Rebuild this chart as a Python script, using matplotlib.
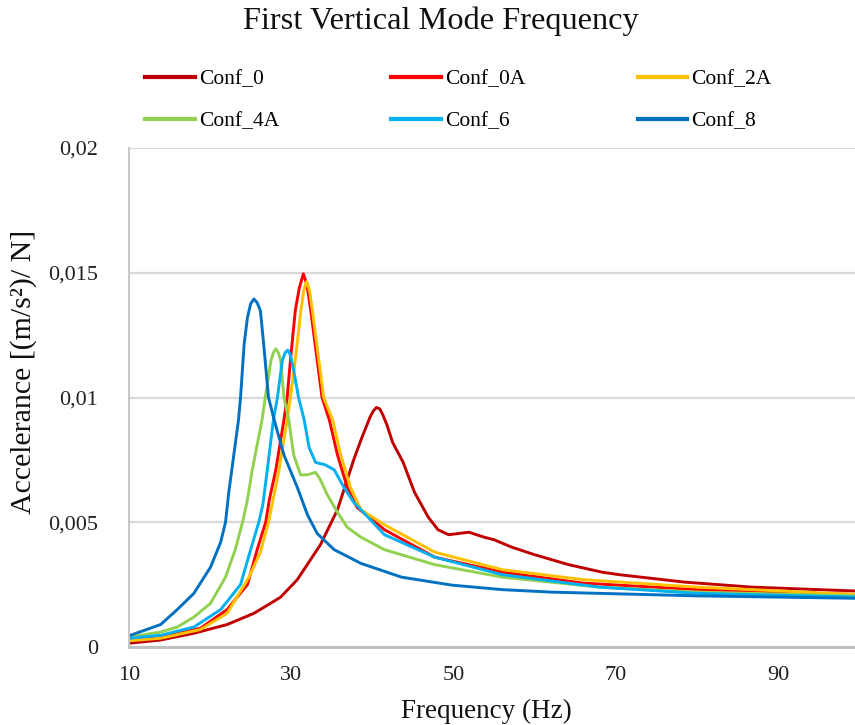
import matplotlib
matplotlib.use("Agg")
import matplotlib.pyplot as plt
from matplotlib.ticker import FuncFormatter

plt.rcParams['font.family'] = ['Liberation Serif', 'DejaVu Serif']

# Conf_0
f_conf0 = [10, 13.9, 18.0, 22.1, 25.4, 27.45, 28.7, 30.75, 33.6, 35.7, 37.7, 38.6, 39.7,
           40.1, 40.5, 40.9, 41.3, 41.8, 42.5, 43.8, 45.2, 46.9, 48.1, 49.4, 51.9, 53.8,
           55, 57.2, 60, 64.2, 68.3, 70.4, 78.5, 86.8, 95, 100]
a_conf0 = [0.00015, 0.00028, 0.00055, 0.0009, 0.00135, 0.00175, 0.002, 0.0027, 0.0041,
           0.0055, 0.0075, 0.0083, 0.0092, 0.00945, 0.0096, 0.00955, 0.0093, 0.0089,
           0.0082, 0.0074, 0.0062, 0.0052, 0.0047, 0.0045, 0.0046, 0.0044, 0.0043,
           0.0040, 0.0037, 0.0033, 0.0030, 0.0029, 0.0026, 0.0024, 0.0023, 0.00224]

# Conf_0A
f_conf0a = [10, 13.9, 18.8, 22.1, 24.6, 25.8, 26.85, 27.3, 28.1, 29.1, 29.5, 29.9, 30.5,
            31.0, 31.5, 31.95, 32.4, 33.2, 33.8, 34.7, 35.7, 36.9, 38.1, 41.5, 47.7, 56,
            66, 80, 100]
a_conf0a = [0.0003, 0.0004, 0.00075, 0.0015, 0.0025, 0.0039, 0.005, 0.0059, 0.0071,
            0.0091, 0.0100, 0.01148, 0.01348, 0.0144, 0.01496, 0.0145, 0.0135, 0.0115,
            0.0100, 0.0091, 0.0077, 0.0064, 0.0056, 0.0047, 0.0036, 0.0030, 0.00256,
            0.0023, 0.0021]

# Conf_2A
f_conf2a = [10, 13.9, 18.8, 22.1, 24.8, 26.2, 27.2, 27.7, 28.5, 29.5, 29.9, 30.5, 31.2,
            31.55, 31.9, 32.25, 32.6, 33.4, 34.0, 35.1, 36.1, 37.3, 38.6, 41.5, 47.7, 56,
            66, 80, 100]
a_conf2a = [0.00025, 0.00035, 0.0007, 0.00135, 0.0028, 0.0038, 0.005, 0.0058, 0.0071,
            0.0091, 0.0100, 0.0115, 0.0135, 0.0143, 0.01465, 0.0143, 0.0135, 0.0115,
            0.0100, 0.0091, 0.0077, 0.0064, 0.0055, 0.0049, 0.0038, 0.0031, 0.0027,
            0.0024, 0.0021]

# Conf_4A
f_conf4a = [10, 13.9, 15.95, 18.0, 20.05, 21.9, 23.1, 24.0, 24.6, 25.2, 26.4, 26.8, 27.5,
            27.8, 28.1, 28.4, 28.7, 29.1, 29.7, 30.3, 31.15, 32.0, 33.0, 33.6, 34.45,
            35.7, 36.9, 38.6, 41.5, 47.7, 56, 68, 80, 100]
a_conf4a = [0.0004, 0.0006, 0.0008, 0.0012, 0.00175, 0.0028, 0.0039, 0.005, 0.0059,
            0.0071, 0.0091, 0.0100, 0.01148, 0.0118, 0.01195, 0.0118, 0.01148, 0.0100,
            0.0091, 0.0077, 0.0069, 0.0069, 0.0070, 0.0067, 0.0061, 0.0054, 0.0048,
            0.0044, 0.0039, 0.0033, 0.0028, 0.0024, 0.0022, 0.00205]

# Conf_6
f_conf6 = [10, 13.9, 18.0, 21.3, 23.75, 25.0, 26.0, 26.5, 27.05, 27.8, 28.3, 28.9, 29.25,
           29.6, 29.95, 30.3, 30.9, 31.6, 32.2, 33.0, 34.2, 35.3, 36.5, 37.7, 38.6, 41.5,
           47.7, 56, 68, 80, 100]
a_conf6 = [0.00035, 0.00047, 0.0008, 0.0015, 0.0025, 0.0039, 0.005, 0.0057, 0.0071,
           0.0091, 0.0100, 0.01148, 0.0118, 0.0119, 0.01165, 0.0111, 0.0100, 0.0091,
           0.0080, 0.0074, 0.0073, 0.0071, 0.0064, 0.0058, 0.0055, 0.0045, 0.0036,
           0.0029, 0.0024, 0.00215, 0.002]

# Conf_8
f_conf8 = [10, 13.9, 15.95, 18.0, 20.05, 21.3, 21.9, 22.3, 23.5, 23.75, 24.2, 24.6, 25.0,
           25.4, 25.8, 26.2, 26.6, 27.2, 27.9, 29.1, 30.75, 32.0, 33.2, 35.3, 38.6, 43.6,
           49.8, 56, 62, 68, 80, 100]
a_conf8 = [0.00045, 0.0009, 0.0015, 0.00215, 0.0032, 0.0042, 0.005, 0.0062, 0.0091,
           0.0100, 0.01215, 0.0132, 0.01376, 0.01395, 0.0138, 0.01348, 0.01215, 0.0100,
           0.0091, 0.0077, 0.0064, 0.0053, 0.00455, 0.0039, 0.00335, 0.0028, 0.00248,
           0.0023, 0.0022, 0.00215, 0.00205, 0.00195]

series = [
    ("Conf_0", f_conf0, a_conf0, "#C00000"),
    ("Conf_0A", f_conf0a, a_conf0a, "#FF0000"),
    ("Conf_2A", f_conf2a, a_conf2a, "#FFC000"),
    ("Conf_4A", f_conf4a, a_conf4a, "#92D050"),
    ("Conf_6", f_conf6, a_conf6, "#00B0F0"),
    ("Conf_8", f_conf8, a_conf8, "#0070C0"),
]

x_ticks = [10, 30, 50, 70, 90]
y_ticks = [0, 0.005, 0.01, 0.015, 0.02]

fig = plt.figure(figsize=(8.55, 7.25), dpi=100)
ax = fig.add_axes([129 / 855, 78 / 725, 730 / 855, 499 / 725])

handles = []
for name, f, a, c in series:
    h, = ax.plot(f, a, color=c, lw=2.1, label=name, solid_joinstyle='round')
    handles.append(h)

ax.set_xlim(10, 100)
ax.set_ylim(0, 0.02)
ax.set_xticks(x_ticks)
ax.set_yticks(y_ticks)


def comma_fmt(v, pos):
    if v == 0:
        return "0"
    return ("%g" % v).replace(".", ",")


ax.yaxis.set_major_formatter(FuncFormatter(comma_fmt))
ax.tick_params(axis='both', length=0, labelsize=16, colors='#222222')
ax.tick_params(axis='y', pad=22)
ax.tick_params(axis='x', pad=14)

ax.grid(axis='y', color='#D9D9D9', lw=1.6)
ax.set_axisbelow(True)
for s in ['top', 'right']:
    ax.spines[s].set_visible(False)
ax.spines['left'].set_color('#C8C8C8')
ax.spines['left'].set_linewidth(1.5)
ax.spines['bottom'].set_color('#BFBFBF')
ax.spines['bottom'].set_linewidth(2)

fig.text(441 / 855, 1 - 21 / 725, "First Vertical Mode Frequency", ha='center', va='center',
         fontsize=23.3, color='#111111')
fig.text(486 / 855, 1 - 711 / 725, "Frequency (Hz)", ha='center', va='center',
         fontsize=19.5, color='#111111')
fig.text(24 / 855, 1 - 372 / 725, "Accelerance [(m/s²)/ N]", ha='center', va='center',
         rotation=90, fontsize=21.5, color='#111111')

# legend filled row by row: matplotlib fills columns, so reorder
order = [0, 3, 1, 4, 2, 5]
leg = fig.legend([handles[i] for i in order], [series[i][0] for i in order],
                 loc='upper left', bbox_to_anchor=(126 / 855, 1 - 50 / 725), ncol=3,
                 frameon=False, fontsize=15.5, handlelength=2.3, handletextpad=0.2,
                 columnspacing=5.2, labelspacing=1.0)
for line in leg.get_lines():
    line.set_linewidth(3)

fig.savefig("out.png", dpi=100)
